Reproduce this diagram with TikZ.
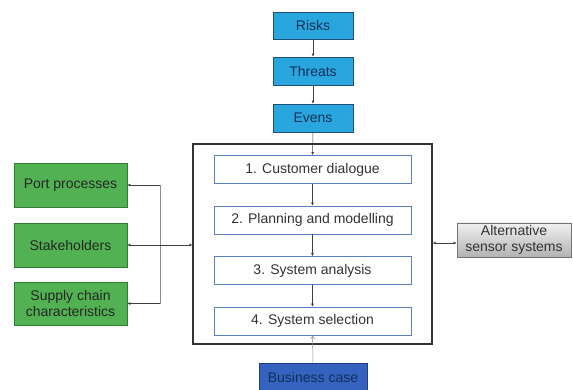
\documentclass[tikz,border=0pt]{standalone}
\usepackage{fontspec}
\setmainfont{Liberation Sans}
\usetikzlibrary{arrows.meta}
\definecolor{riskblue}{HTML}{2AA6DE}
\definecolor{riskedge}{HTML}{1F4E79}
\definecolor{navytext}{HTML}{10305A}
\definecolor{portgreen}{HTML}{52B152}
\definecolor{portedge}{HTML}{2E7D32}
\definecolor{stepedge}{HTML}{5B7FC0}
\definecolor{casefill}{HTML}{3462BE}
\definecolor{caseedge}{HTML}{1E3F86}
\definecolor{linkgray}{HTML}{8C8C8C}
\tikzset{
  bodyfont/.style={font=\fontsize{14}{16}\selectfont},
  riskbox/.style={draw=riskedge, line width=0.9pt, fill=riskblue, text=navytext,
    minimum width=80pt, minimum height=27pt, inner sep=0pt, bodyfont},
  stagebox/.style={draw=stepedge, line width=0.9pt, fill=white, text=black!80,
    minimum width=197pt, minimum height=28pt, inner sep=0pt, bodyfont},
  inputbox/.style={draw=portedge, line width=0.8pt, fill=portgreen, text=black!85,
    minimum width=113pt, minimum height=44pt, inner sep=0pt, align=center, bodyfont},
  flow/.style={-{Latex[length=3pt,width=3pt]}, line width=0.5pt, black!75},
  link/.style={line width=0.8pt, linkgray},
}
\begin{document}
\begin{tikzpicture}[x=1pt,y=-1pt]
\useasboundingbox (0,0) rectangle (573,390);

% top chain
\node[riskbox] (risks) at (313,25.5) {Risks};
\node[riskbox, minimum height=28pt] (threats) at (313,71) {Threats};
\node[riskbox, minimum height=28pt] (evens) at (313,118) {Evens};

% process frame and stages
\node[draw=black!80, line width=1.2pt, minimum width=239pt, minimum height=200pt, inner sep=0pt] (frame) at (312.5,244) {};
\node[stagebox] (s1) at (312.5,169.5) {1. Customer dialogue};
\node[stagebox] (s2) at (312.5,220) {2. Planning and modelling};
\node[stagebox] (s3) at (312.5,270.5) {3. System analysis};
\node[stagebox] (s4) at (312.5,321) {4. System selection};

% business case
\node[draw=caseedge, line width=0.8pt, fill=casefill, text=navytext, minimum width=108pt,
  minimum height=28pt, inner sep=0pt, bodyfont] (case) at (313,377) {Business case};

% inputs on the left
\node[inputbox] (port) at (70.5,185) {Port processes};
\node[inputbox] (stake) at (70.5,245) {Stakeholders};
\node[inputbox, minimum height=43pt, font=\fontsize{14}{15.5}\selectfont] (supply) at (70.5,303.5) {Supply chain\\characteristics};

% alternative sensor systems
\node[draw=black!55, line width=0.8pt, top color=black!6, bottom color=black!30,
  minimum width=114pt, minimum height=34pt, inner sep=0pt, align=center, text=black!80,
  font=\fontsize{14}{15.5}\selectfont] (alt) at (514,240) {Alternative\\sensor systems};

% connectors
\draw[flow] (risks) -- (threats);
\draw[flow] (threats) -- (evens);
\draw[flow] (evens) -- (s1);
\draw[flow] (s1) -- (s2);
\draw[flow] (s2) -- (s3);
\draw[flow] (s3) -- (s4);
\draw[-{Straight Barb[length=3pt,width=4pt]}, line width=0.5pt, black!45] (case) -- (s4);

\coordinate (busTop) at (160,185);
\coordinate (busBot) at (160,303.5);
\draw[link] (busTop) -- (busBot);
\draw[flow] (busTop) -- (port.east);
\draw[flow] (busBot) -- (supply.east);
\draw[flow, {Latex[length=3pt,width=3pt]}-{Latex[length=3pt,width=3pt]}] (stake.east) -- (stake.east -| frame.west);
\draw[flow, {Latex[length=3pt,width=3pt]}-{Latex[length=3pt,width=3pt]}] (frame.east |- 0,243) -- (alt.west |- 0,243);
\end{tikzpicture}
\end{document}
